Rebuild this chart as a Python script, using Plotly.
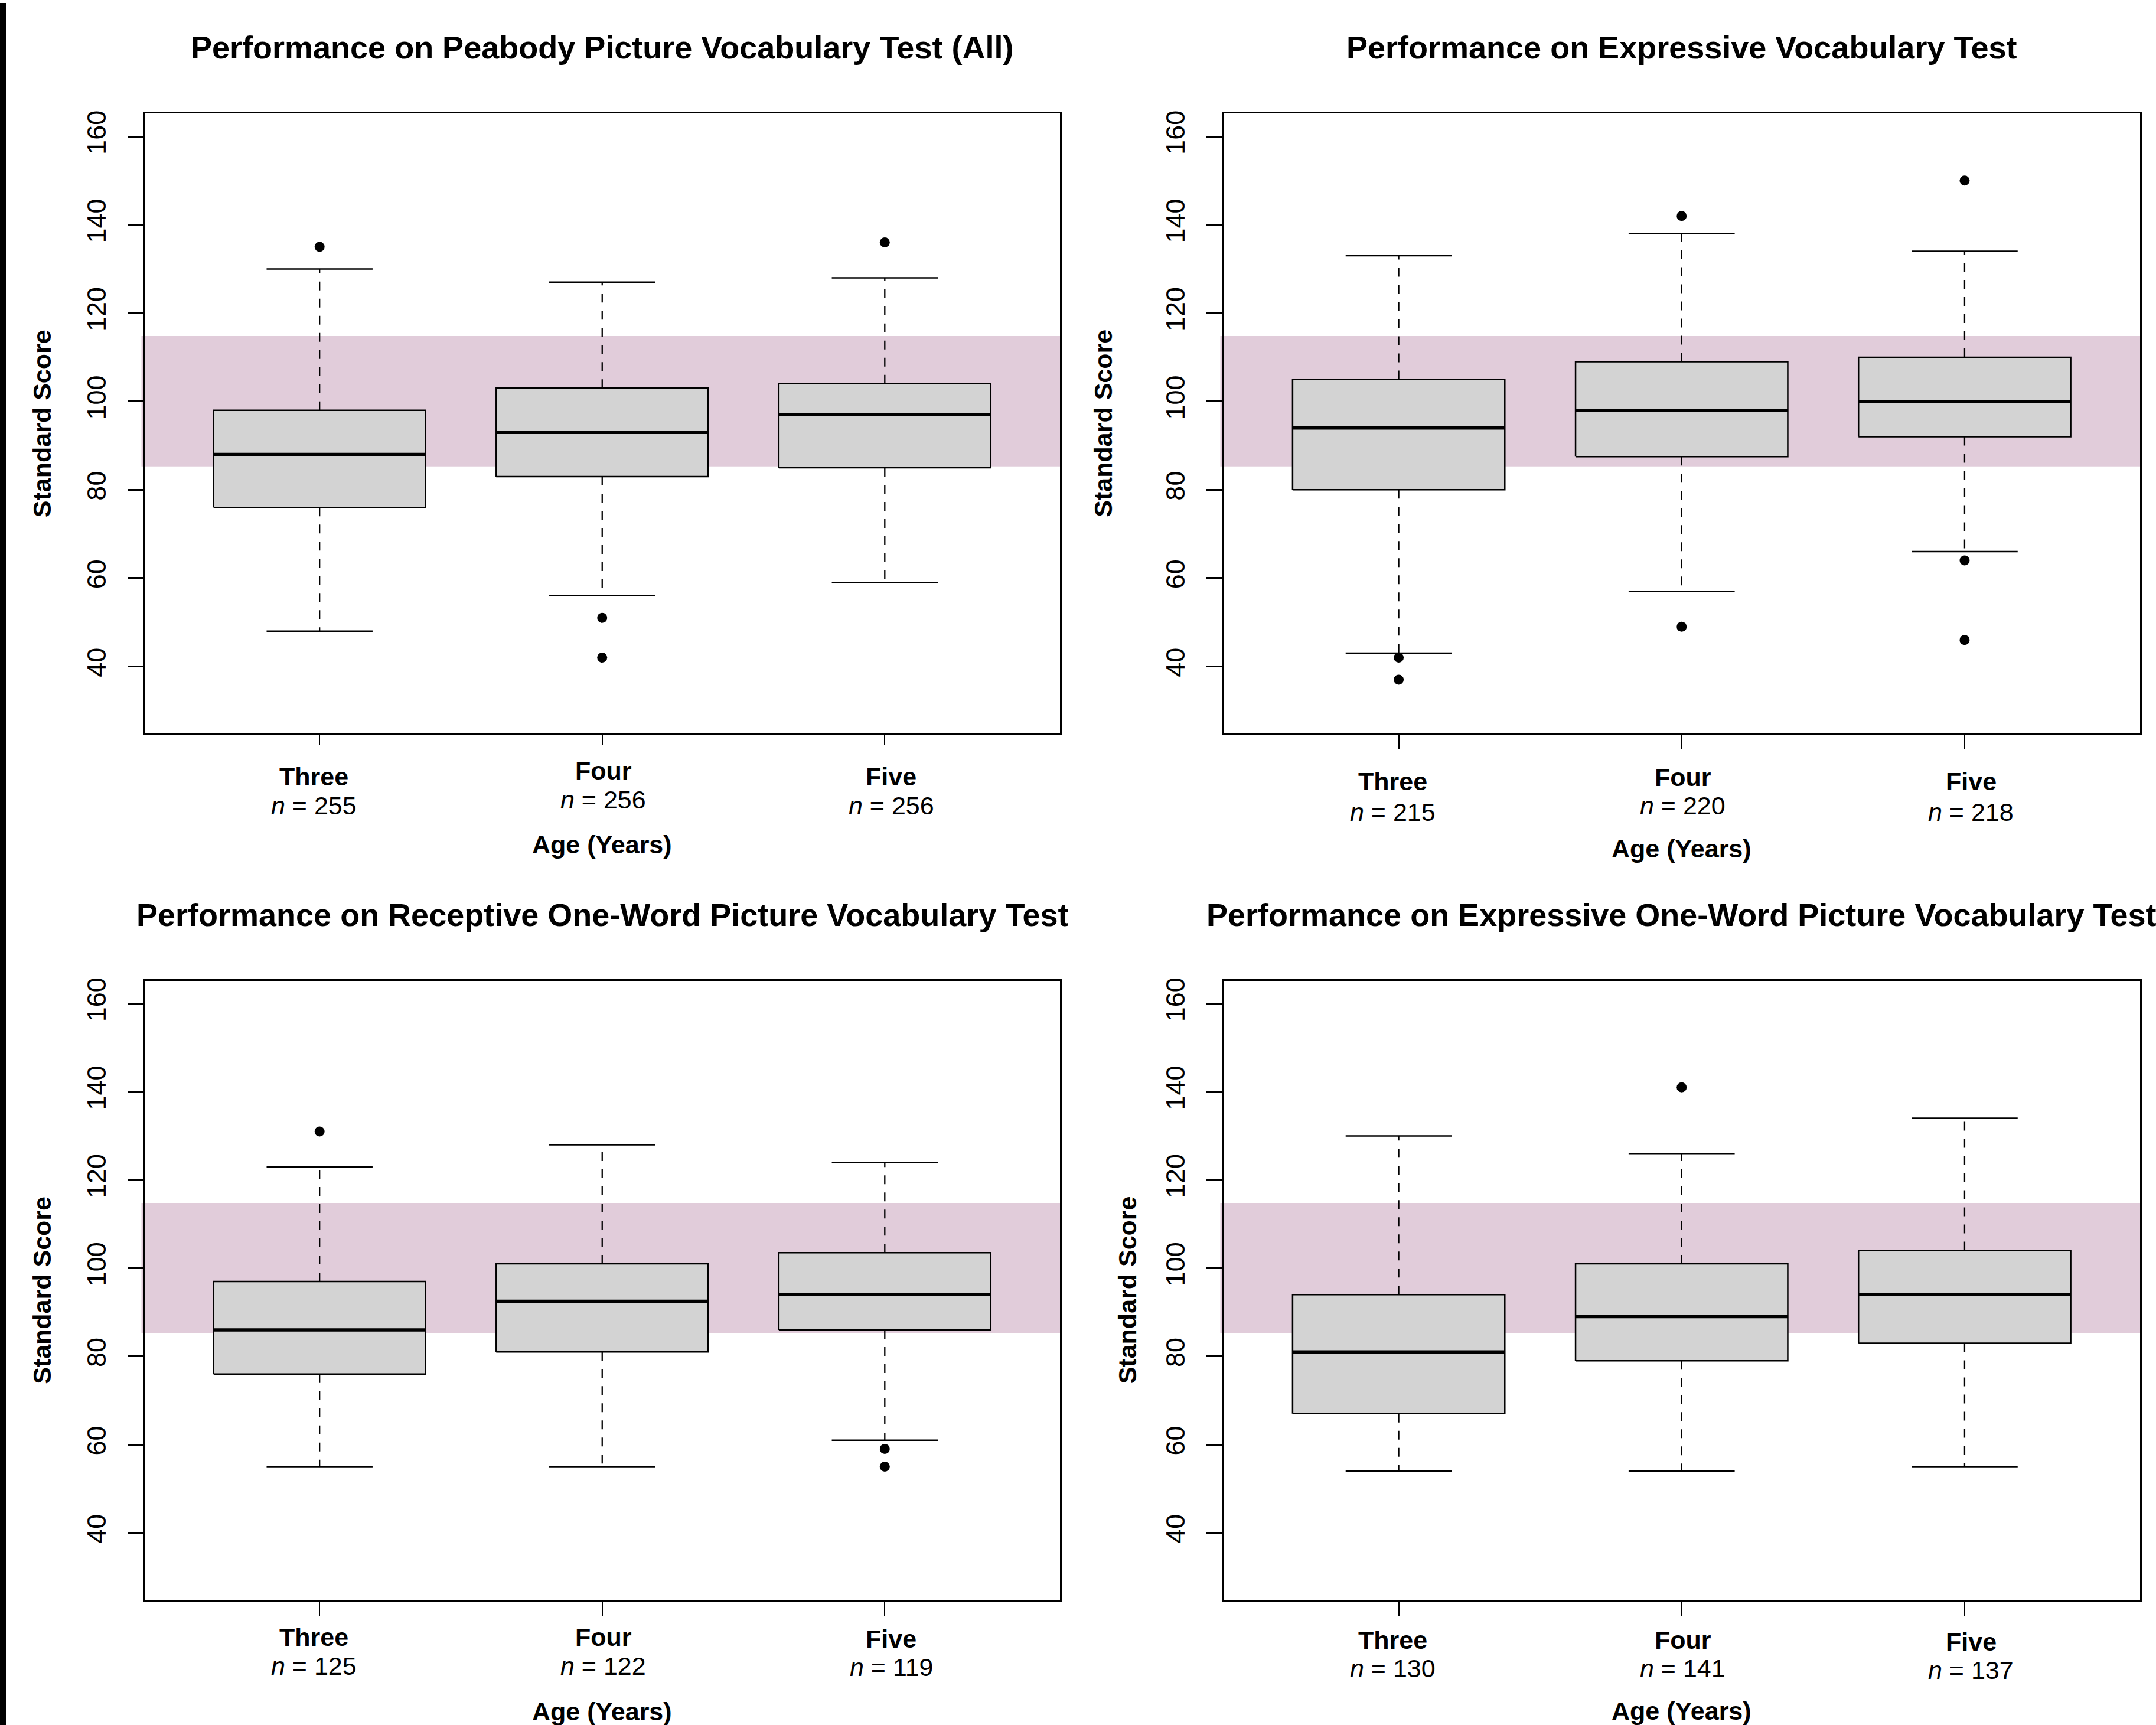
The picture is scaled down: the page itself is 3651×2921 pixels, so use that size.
import plotly.graph_objects as go

W, H = 3651, 2921

# ---------------- data ----------------
categories = ["Three", "Four", "Five"]
positions = [1, 2, 3]
y_ticks = [40, 60, 80, 100, 120, 140, 160]
band_low, band_high = 85.3, 114.8

panel_titles = [
    "Performance on Peabody Picture Vocabulary Test (All)",
    "Performance on Expressive Vocabulary Test",
    "Performance on Receptive One-Word Picture Vocabulary Test",
    "Performance on Expressive One-Word Picture Vocabulary Test",
]

# Peabody Picture Vocabulary Test (All)
ppvt_lower = [48, 56, 59]
ppvt_q1 = [76, 83, 85]
ppvt_median = [88, 93, 97]
ppvt_q3 = [98, 103, 104]
ppvt_upper = [130, 127, 128]
ppvt_outliers = [[135], [51, 42], [136]]
ppvt_n = [255, 256, 256]

# Expressive Vocabulary Test
evt_lower = [43, 57, 66]
evt_q1 = [80, 87.5, 92]
evt_median = [94, 98, 100]
evt_q3 = [105, 109, 110]
evt_upper = [133, 138, 134]
evt_outliers = [[42, 37], [142, 49], [150, 64, 46]]
evt_n = [215, 220, 218]

# Receptive One-Word Picture Vocabulary Test
rowpvt_lower = [55, 55, 61]
rowpvt_q1 = [76, 81, 86]
rowpvt_median = [86, 92.5, 94]
rowpvt_q3 = [97, 101, 103.5]
rowpvt_upper = [123, 128, 124]
rowpvt_outliers = [[131], [], [59, 55]]
rowpvt_n = [125, 122, 119]

# Expressive One-Word Picture Vocabulary Test
eowpvt_lower = [54, 54, 55]
eowpvt_q1 = [67, 79, 83]
eowpvt_median = [81, 89, 94]
eowpvt_q3 = [94, 101, 104]
eowpvt_upper = [130, 126, 134]
eowpvt_outliers = [[], [141], []]
eowpvt_n = [130, 141, 137]

# ---------------- styling / layout ----------------
FONT = "Liberation Sans, Arial, Helvetica, sans-serif"
BOX_FILL = "#D3D3D3"
BAND = "#E1CCDA"
HALF_BOX = 0.375
HALF_CAP = 0.1875

x_left = [244.5 / W, 1795 / W]
x_right = [2071.5 / W, 3624 / W]
y_top = [1 - 1239.3 / H, 1 - 187.5 / H]
y_bot = [1 - 2708.6 / H, 1 - 1658.5 / H]

panels = [
    dict(dx=x_left, dy=y_top, lower=ppvt_lower, q1=ppvt_q1, med=ppvt_median, q3=ppvt_q3,
         upper=ppvt_upper, out=ppvt_outliers, n=ppvt_n,
         lab=[73, 63, 73], nl=[121.5, 111.5, 121.5], age=188, ytitle=173.5, xtick=16),
    dict(dx=x_right, dy=y_top, lower=evt_lower, q1=evt_q1, med=evt_median, q3=evt_q3,
         upper=evt_upper, out=evt_outliers, n=evt_n,
         lab=[81, 74, 81], nl=[132.5, 122, 132.5], age=195, ytitle=203, xtick=24),
    dict(dx=x_left, dy=y_bot, lower=rowpvt_lower, q1=rowpvt_q1, med=rowpvt_median, q3=rowpvt_q3,
         upper=rowpvt_upper, out=rowpvt_outliers, n=rowpvt_n,
         lab=[63.5, 63.5, 66], nl=[112, 112, 114.5], age=189, ytitle=173.5, xtick=24),
    dict(dx=x_right, dy=y_bot, lower=eowpvt_lower, q1=eowpvt_q1, med=eowpvt_median, q3=eowpvt_q3,
         upper=eowpvt_upper, out=eowpvt_outliers, n=eowpvt_n,
         lab=[68, 68, 71.5], nl=[116.5, 116.5, 119.5], age=188, ytitle=163, xtick=24),
]
label_xshift = [-10, 2, 11]

fig = go.Figure()
annotations = []
shapes = []
layout_axes = {}

for k, p in enumerate(panels):
    sfx = "" if k == 0 else str(k + 1)
    xa, ya = "x" + sfx, "y" + sfx
    common = dict(mode="lines", xaxis=xa, yaxis=ya, showlegend=False, hoverinfo="skip")

    # whiskers (dashed)
    wx, wy = [], []
    for x, a, lo, b, hi in zip(positions, p["q1"], p["lower"], p["q3"], p["upper"]):
        wx += [x, x, None, x, x, None]
        wy += [b, hi, None, a, lo, None]
    fig.add_trace(go.Scatter(x=wx, y=wy, line=dict(color="black", width=2.3, dash="15px,14px"), **common))

    # staples
    cx, cy = [], []
    for x, lo, hi in zip(positions, p["lower"], p["upper"]):
        cx += [x - HALF_CAP, x + HALF_CAP, None, x - HALF_CAP, x + HALF_CAP, None]
        cy += [hi, hi, None, lo, lo, None]
    fig.add_trace(go.Scatter(x=cx, y=cy, line=dict(color="black", width=2.5), **common))

    # boxes
    for x, a, b in zip(positions, p["q1"], p["q3"]):
        fig.add_trace(go.Scatter(
            x=[x - HALF_BOX, x + HALF_BOX, x + HALF_BOX, x - HALF_BOX, x - HALF_BOX],
            y=[a, a, b, b, a], fill="toself", fillcolor=BOX_FILL,
            line=dict(color="black", width=2.5), **common))

    # medians
    mx, my = [], []
    for x, m in zip(positions, p["med"]):
        mx += [x - HALF_BOX, x + HALF_BOX, None]
        my += [m, m, None]
    fig.add_trace(go.Scatter(x=mx, y=my, line=dict(color="black", width=5.5), **common))

    # outliers
    ox, oy = [], []
    for x, vals in zip(positions, p["out"]):
        for v in vals:
            ox.append(x)
            oy.append(v)
    fig.add_trace(go.Scatter(x=ox, y=oy, mode="markers", marker=dict(color="black", size=17),
                             xaxis=xa, yaxis=ya, showlegend=False, hoverinfo="skip"))

    axis_line = dict(showline=True, mirror=True, linecolor="black", linewidth=2.7,
                     showgrid=False, zeroline=False, ticks="outside", tickcolor="black")
    layout_axes["xaxis" + sfx] = dict(domain=p["dx"], anchor=ya, range=[0.38, 3.62],
                                      tickvals=positions, showticklabels=False,
                                      ticklen=p["xtick"], tickwidth=2, **axis_line)
    layout_axes["yaxis" + sfx] = dict(domain=p["dy"], anchor=xa, range=[24.8, 165.2],
                                      tickvals=y_ticks, ticklen=26, tickwidth=2.5, tickangle=-90,
                                      ticklabelstandoff=19,
                                      tickfont=dict(family=FONT, size=45, color="black"),
                                      **axis_line)

    # reference band
    shapes.append(dict(type="rect", xref=xa + " domain", yref=ya, x0=-5 / 1551, x1=1,
                       y0=band_low, y1=band_high, fillcolor=BAND, line=dict(width=0), layer="below"))

    # title
    annotations.append(dict(text="<b>" + panel_titles[k] + "</b>", xref=xa + " domain", yref=ya + " domain",
                            x=0.5, y=1, yshift=112, xanchor="center", yanchor="middle", showarrow=False,
                            font=dict(family=FONT, size=54, color="black")))
    # category labels
    for i, (cat, nn) in enumerate(zip(categories, p["n"])):
        annotations.append(dict(text="<b>" + cat + "</b>", xref=xa, yref=ya + " domain",
                                x=positions[i], y=0, yshift=-p["lab"][i], xshift=label_xshift[i],
                                xanchor="center", yanchor="middle", showarrow=False,
                                font=dict(family=FONT, size=43, color="black")))
        annotations.append(dict(text="<i>n</i> = " + str(nn), xref=xa, yref=ya + " domain",
                                x=positions[i], y=0, yshift=-p["nl"][i], xshift=label_xshift[i],
                                xanchor="center", yanchor="middle", showarrow=False,
                                font=dict(family=FONT, size=43, color="black")))
    # axis titles
    annotations.append(dict(text="<b>Age (Years)</b>", xref=xa + " domain", yref=ya + " domain",
                            x=0.5, y=0, yshift=-p["age"], xanchor="center", yanchor="middle",
                            showarrow=False, font=dict(family=FONT, size=43, color="black")))
    annotations.append(dict(text="<b>Standard Score</b>", xref=xa + " domain", yref=ya + " domain",
                            x=0, y=0.5, xshift=-p["ytitle"], textangle=-90, xanchor="center",
                            yanchor="middle", showarrow=False,
                            font=dict(family=FONT, size=43, color="black")))

# black strip at the left edge of the image
shapes.append(dict(type="rect", xref="paper", yref="paper", x0=0, x1=10 / W, y0=0, y1=1,
                   fillcolor="black", line=dict(width=0), layer="above"))

fig.update_layout(
    width=W, height=H, autosize=False,
    margin=dict(l=0, r=0, t=0, b=0, pad=0),
    paper_bgcolor="white", plot_bgcolor="white",
    font=dict(family=FONT, color="black"),
    annotations=annotations, shapes=shapes,
    **layout_axes,
)

fig.write_html(
    "out.html",
    config={"displayModeBar": False},
    post_script="document.body.style.margin='0';document.body.style.overflow='hidden';",
)
